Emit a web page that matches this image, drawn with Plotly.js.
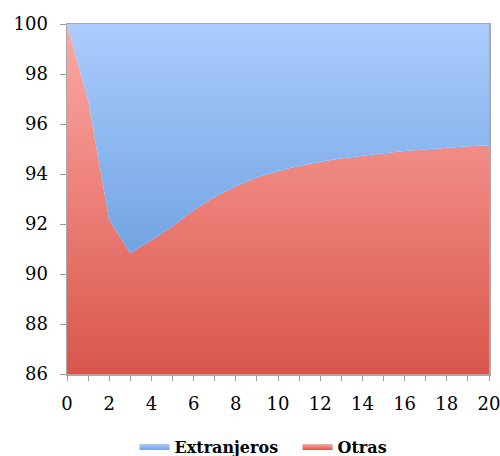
<!DOCTYPE html>
<html>
<head>
<meta charset="utf-8">
<script src="https://cdn.plot.ly/plotly-3.0.1.min.js"></script>
<style>html,body{margin:0;padding:0;background:#fff}#chart{width:500px;height:456px}</style>
</head>
<body>
<div id="chart"></div>
<script>
var years = [0,1,2,3,4,5,6,7,8,9,10,11,12,13,14,15,16,17,18,19,20];
var otras = [100, 96.96, 92.16, 90.85, 91.36, 91.92, 92.56, 93.09, 93.52, 93.87, 94.12, 94.33, 94.49, 94.63, 94.73, 94.83, 94.92, 94.99, 95.05, 95.11, 95.15];
var extranjeros = [0, 3.04, 7.84, 9.15, 8.64, 8.08, 7.44, 6.91, 6.48, 6.13, 5.88, 5.67, 5.51, 5.37, 5.27, 5.17, 5.08, 5.01, 4.95, 4.89, 4.85];
var xTickVals = [0,2,4,6,8,10,12,14,16,18,20];
var yTickVals = [86,88,90,92,94,96,98,100];

var traces = [
  {
    x: years, y: otras, name: 'Otras', type: 'scatter', mode: 'none',
    stackgroup: 'one', fill: 'tozeroy',
    fillgradient: {type: 'vertical', start: 86, stop: 100,
      colorscale: [[0, '#d8564b'], [0.5, '#ec8079'], [1, '#fbaaa5']]},
    hoverinfo: 'skip'
  },
  {
    x: years, y: extranjeros, name: 'Extranjeros', type: 'scatter', mode: 'none',
    stackgroup: 'one', fill: 'tonexty',
    fillgradient: {type: 'vertical', start: 90.8, stop: 100,
      colorscale: [[0, '#71a4e2'], [1, '#abccfe']]},
    hoverinfo: 'skip'
  }
];

var serif = 'DejaVu Serif';
var axisFont = {family: serif, size: 18, color: '#000'};

var layout = {
  width: 500, height: 456,
  margin: {l: 67, r: 11, t: 24, b: 82, autoexpand: false},
  paper_bgcolor: '#fff', plot_bgcolor: '#fff',
  showlegend: true,
  xaxis: {
    range: [0, 20], tickvals: xTickVals, ticks: 'outside', ticklen: 5,
    tickcolor: '#9a9a9a', showgrid: false, zeroline: false, automargin: false,
    showline: true, linecolor: '#a8a8a8', linewidth: 1.5, mirror: true,
    tickfont: axisFont, ticklabelstandoff: 8, ticklabeloverflow: 'allow',
    minor: {dtick: 1, ticks: 'outside', ticklen: 5, tickcolor: '#9a9a9a', showgrid: false}
  },
  yaxis: {
    range: [86, 100], tickvals: yTickVals, ticks: 'outside', ticklen: 6,
    tickcolor: '#9a9a9a', showgrid: false, zeroline: false, automargin: false,
    showline: true, linecolor: '#a8a8a8', linewidth: 1.5, mirror: true,
    tickfont: axisFont, ticklabelstandoff: 8, ticklabeloverflow: 'allow'
  },
  legend: {
    orientation: 'h', x: 0.16, xanchor: 'left', y: -0.16, yanchor: 'top',
    traceorder: 'reversed', entrywidth: 118, entrywidthmode: 'pixels',
    font: {family: serif, size: 16, color: '#000', weight: 'bold'},
    bgcolor: 'rgba(0,0,0,0)'
  }
};

Plotly.newPlot('chart', traces, layout, {staticPlot: true, displayModeBar: false});
</script>
</body>
</html>
